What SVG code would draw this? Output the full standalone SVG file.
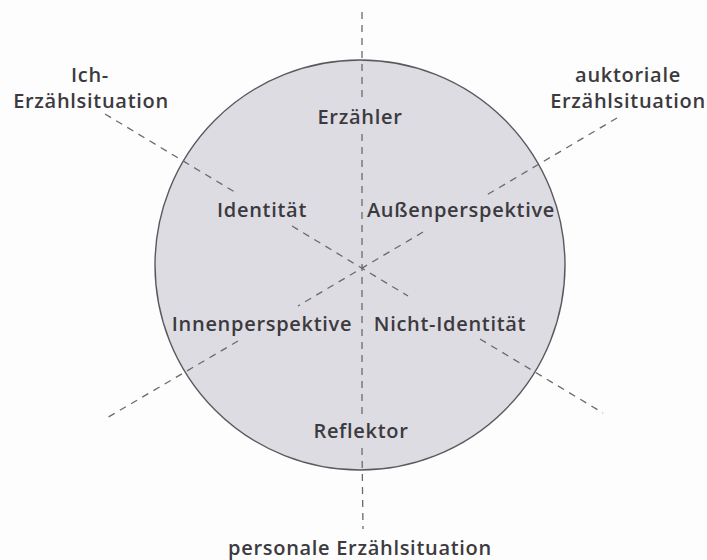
<svg xmlns="http://www.w3.org/2000/svg" width="707" height="560" viewBox="0 0 707 560">
  <style>
    .lbl { font-family: "Open Sans", "Liberation Sans", sans-serif; font-weight: 600; font-size: 20px; letter-spacing: 0.7px; fill: #3c3a3e; text-anchor: middle; }
    .axis { stroke: #6a6a6e; stroke-width: 1.3; stroke-dasharray: 7 6; fill: none; }
    .disc { fill: #dddce2; stroke: #5a5a5e; stroke-width: 1.4; }
  </style>
  <rect width="707" height="560" fill="#fdfdfd"/>

  <g id="circle">
    <circle class="disc" cx="360" cy="265" r="205"/>
  </g>

  <g id="connectors">
    <!-- vertical axis: Erzähler / Reflektor -->
    <line class="axis" x1="362" y1="12" x2="362" y2="100"/>
    <line class="axis" x1="362" y1="134" x2="362" y2="414"/>
    <line class="axis" x1="362" y1="448" x2="363" y2="529"/>
    <!-- axis Identität / Nicht-Identität -->
    <line class="axis" x1="105" y1="114" x2="238" y2="194"/>
    <line class="axis" x1="292" y1="226" x2="408" y2="296"/>
    <line class="axis" x1="480" y1="339" x2="603" y2="413"/>
    <!-- axis Außenperspektive / Innenperspektive -->
    <line class="axis" x1="617" y1="118" x2="485" y2="196"/>
    <line class="axis" x1="423" y1="232" x2="298" y2="306"/>
    <line class="axis" x1="238" y1="341" x2="105" y2="419"/>
  </g>

  <g id="ich-erzaehlsituation">
    <text class="lbl" x="90" y="82">Ich-</text>
    <text class="lbl" x="91" y="108">Erzählsituation</text>
  </g>
  <g id="auktoriale-erzaehlsituation">
    <text class="lbl" x="628" y="82">auktoriale</text>
    <text class="lbl" x="628" y="108">Erzählsituation</text>
  </g>
  <g id="erzaehler">
    <text class="lbl" x="360" y="124">Erzähler</text>
  </g>
  <g id="identitaet">
    <text class="lbl" x="262" y="217">Identität</text>
  </g>
  <g id="aussenperspektive">
    <text class="lbl" x="461" y="217">Außenperspektive</text>
  </g>
  <g id="innenperspektive">
    <text class="lbl" x="262" y="331">Innenperspektive</text>
  </g>
  <g id="nicht-identitaet">
    <text class="lbl" x="450" y="331">Nicht-Identität</text>
  </g>
  <g id="reflektor">
    <text class="lbl" x="361" y="438">Reflektor</text>
  </g>
  <g id="personale-erzaehlsituation">
    <text class="lbl" x="360" y="555">personale Erzählsituation</text>
  </g>
</svg>
